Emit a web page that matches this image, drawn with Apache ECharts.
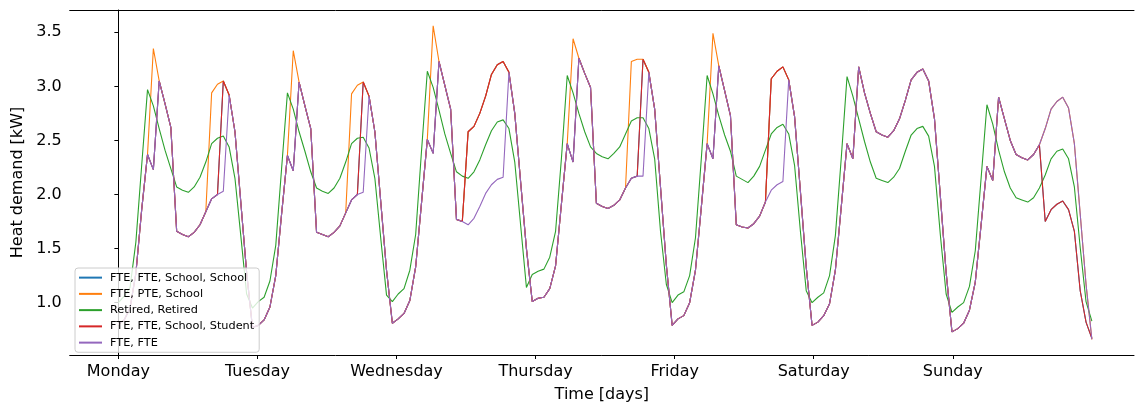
<!DOCTYPE html>
<html><head><meta charset="utf-8">
<script src="https://cdn.jsdelivr.net/npm/echarts@6/dist/echarts.min.js"></script>
<style>html,body{margin:0;padding:0;background:#fff}#c{width:1135px;height:408px}</style>
</head><body><div id="c"></div>
<script>
const dayLabels = ['Monday', 'Tuesday', 'Wednesday', 'Thursday', 'Friday', 'Saturday', 'Sunday'];
const dayTicks = [0, 1, 2, 3, 4, 5, 6];
const yTicks = [1.0, 1.5, 2.0, 2.5, 3.0, 3.5];
const seriesNames = ['FTE, FTE, School, School', 'FTE, PTE, School', 'Retired, Retired', 'FTE, FTE, School, Student', 'FTE, FTE'];
const seriesColors = ['#1f77b4', '#ff7f0e', '#2ca02c', '#d62728', '#9467bd'];

// hourly heat demand [kW], 168 values (Mon 00:00 .. Sun 23:00)
const fteFteSchoolSchool = [
 0.80,0.84,0.95,1.27,1.86,2.37,2.23,3.05,2.84,2.62,1.66,1.63,1.61,1.65,1.72,1.84,1.96,2.00,3.05,2.92,2.58,1.93,1.28,0.77,
 0.79,0.84,0.96,1.25,1.82,2.36,2.22,3.04,2.82,2.61,1.65,1.63,1.61,1.65,1.71,1.83,1.95,2.00,3.04,2.91,2.58,1.94,1.30,0.81,
 0.85,0.90,1.02,1.33,1.92,2.51,2.38,3.23,3.01,2.79,1.77,1.75,2.58,2.63,2.75,2.91,3.11,3.20,3.23,3.13,2.75,2.12,1.50,1.01,
 1.04,1.05,1.13,1.34,1.91,2.47,2.30,3.26,3.12,2.99,1.92,1.89,1.87,1.90,1.95,2.06,2.15,2.17,3.25,3.13,2.79,2.07,1.35,0.79,
 0.85,0.88,1.00,1.30,1.88,2.47,2.33,3.19,2.96,2.73,1.72,1.70,1.69,1.73,1.80,1.93,3.07,3.14,3.18,3.06,2.72,2.03,1.33,0.79,
 0.82,0.88,0.99,1.30,1.88,2.47,2.33,3.18,2.94,2.75,2.58,2.55,2.53,2.59,2.70,2.87,3.06,3.13,3.16,3.05,2.70,1.99,1.28,0.73,
 0.76,0.81,0.93,1.19,1.72,2.26,2.13,2.90,2.70,2.50,2.37,2.34,2.32,2.37,2.46,1.75,1.86,1.91,1.94,1.86,1.66,1.11,0.82,0.67
];
const ftePteSchool = [
 0.80,0.84,0.95,1.27,1.86,2.37,3.35,3.05,2.84,2.62,1.66,1.63,1.61,1.65,1.72,1.84,2.94,3.02,3.05,2.92,2.58,1.93,1.28,0.77,
 0.79,0.84,0.96,1.25,1.82,2.36,3.33,3.04,2.82,2.61,1.65,1.63,1.61,1.65,1.71,1.83,2.93,3.01,3.04,2.91,2.58,1.94,1.30,0.81,
 0.85,0.90,1.02,1.33,1.92,2.51,3.56,3.23,3.01,2.79,1.77,1.75,2.58,2.63,2.75,2.91,3.11,3.20,3.23,3.13,2.75,2.12,1.50,1.01,
 1.04,1.05,1.13,1.34,1.91,2.47,3.44,3.26,3.12,2.99,1.92,1.89,1.87,1.90,1.95,2.06,3.23,3.25,3.25,3.13,2.79,2.07,1.35,0.79,
 0.85,0.88,1.00,1.30,1.88,2.47,3.49,3.19,2.96,2.73,1.72,1.70,1.69,1.73,1.80,1.93,3.07,3.14,3.18,3.06,2.72,2.03,1.33,0.79,
 0.82,0.88,0.99,1.30,1.88,2.47,2.33,3.18,2.94,2.75,2.58,2.55,2.53,2.59,2.70,2.87,3.06,3.13,3.16,3.05,2.70,1.99,1.28,0.73,
 0.76,0.81,0.93,1.19,1.72,2.26,2.13,2.90,2.70,2.50,2.37,2.34,2.32,2.37,2.46,2.61,2.79,2.86,2.90,2.80,2.47,1.82,1.17,0.66
];
const retiredRetired = [
 1.00,1.06,1.14,1.56,2.27,2.97,2.82,2.61,2.41,2.24,2.07,2.04,2.02,2.07,2.16,2.30,2.47,2.52,2.54,2.44,2.15,1.62,1.08,0.95,
 1.01,1.05,1.20,1.53,2.24,2.94,2.79,2.58,2.40,2.21,2.06,2.03,2.01,2.06,2.15,2.30,2.47,2.52,2.53,2.43,2.15,1.60,1.07,1.01,
 1.08,1.13,1.30,1.63,2.40,3.14,2.99,2.78,2.56,2.38,2.21,2.17,2.15,2.21,2.32,2.46,2.59,2.67,2.69,2.61,2.30,1.72,1.14,1.26,
 1.29,1.31,1.42,1.66,2.33,3.10,2.94,2.75,2.58,2.44,2.38,2.35,2.33,2.38,2.44,2.56,2.68,2.71,2.71,2.61,2.33,1.66,1.17,1.00,
 1.07,1.10,1.25,1.60,2.33,3.10,2.93,2.73,2.55,2.40,2.17,2.14,2.11,2.17,2.26,2.41,2.56,2.62,2.65,2.56,2.27,1.66,1.11,1.00,
 1.05,1.09,1.25,1.62,2.33,3.09,2.91,2.70,2.49,2.30,2.15,2.13,2.11,2.16,2.24,2.40,2.55,2.61,2.63,2.54,2.26,1.63,1.08,0.91,
 0.96,1.00,1.15,1.48,2.15,2.83,2.65,2.41,2.21,2.06,1.97,1.95,1.93,1.97,2.06,2.18,2.33,2.40,2.42,2.33,2.07,1.51,1.01,0.83
];
const fteFteSchoolStudent = [
 0.80,0.84,0.95,1.27,1.86,2.37,2.23,3.05,2.84,2.62,1.66,1.63,1.61,1.65,1.72,1.84,1.96,2.00,3.05,2.92,2.58,1.93,1.28,0.77,
 0.79,0.84,0.96,1.25,1.82,2.36,2.22,3.04,2.82,2.61,1.65,1.63,1.61,1.65,1.71,1.83,1.95,2.00,3.04,2.91,2.58,1.94,1.30,0.81,
 0.85,0.90,1.02,1.33,1.92,2.51,2.38,3.23,3.01,2.79,1.77,1.75,2.58,2.63,2.75,2.91,3.11,3.20,3.23,3.13,2.75,2.12,1.50,1.01,
 1.04,1.05,1.13,1.34,1.91,2.47,2.30,3.26,3.12,2.99,1.92,1.89,1.87,1.90,1.95,2.06,2.15,2.17,3.25,3.13,2.79,2.07,1.35,0.79,
 0.85,0.88,1.00,1.30,1.88,2.47,2.33,3.19,2.96,2.73,1.72,1.70,1.69,1.73,1.80,1.93,3.07,3.14,3.18,3.06,2.72,2.03,1.33,0.79,
 0.82,0.88,0.99,1.30,1.88,2.47,2.33,3.18,2.94,2.75,2.58,2.55,2.53,2.59,2.70,2.87,3.06,3.13,3.16,3.05,2.70,1.99,1.28,0.73,
 0.76,0.81,0.93,1.19,1.72,2.26,2.13,2.90,2.70,2.50,2.37,2.34,2.32,2.37,2.46,1.75,1.86,1.91,1.94,1.86,1.66,1.11,0.82,0.67
];
const fteFte = [
 0.80,0.84,0.95,1.27,1.86,2.37,2.23,3.05,2.84,2.62,1.66,1.63,1.61,1.65,1.72,1.84,1.96,2.00,2.03,2.92,2.58,1.93,1.28,0.77,
 0.79,0.84,0.96,1.25,1.82,2.36,2.22,3.04,2.82,2.61,1.65,1.63,1.61,1.65,1.71,1.83,1.95,2.00,2.02,2.91,2.58,1.94,1.30,0.81,
 0.85,0.90,1.02,1.33,1.92,2.51,2.38,3.23,3.01,2.79,1.77,1.75,1.72,1.78,1.89,2.01,2.09,2.14,2.16,3.13,2.75,2.12,1.50,1.01,
 1.04,1.05,1.13,1.34,1.91,2.47,2.30,3.26,3.12,2.99,1.92,1.89,1.87,1.90,1.95,2.06,2.15,2.17,2.17,3.13,2.79,2.07,1.35,0.79,
 0.85,0.88,1.00,1.30,1.88,2.47,2.33,3.19,2.96,2.73,1.72,1.70,1.69,1.73,1.80,1.93,2.04,2.09,2.12,3.06,2.72,2.03,1.33,0.79,
 0.82,0.88,0.99,1.30,1.88,2.47,2.33,3.18,2.94,2.75,2.58,2.55,2.53,2.59,2.70,2.87,3.06,3.13,3.16,3.05,2.70,1.99,1.28,0.73,
 0.76,0.81,0.93,1.19,1.72,2.26,2.13,2.90,2.70,2.50,2.37,2.34,2.32,2.37,2.46,2.61,2.79,2.86,2.90,2.80,2.47,1.82,1.17,0.66
];

const seriesValues = [fteFteSchoolSchool, ftePteSchool, retiredRetired, fteFteSchoolStudent, fteFte];
const nPoints = fteFte.length;
// points are spread evenly over 7 days (index -> time in days)
const timeDays = fteFte.map((_, i) => i * 7 / (nPoints - 1));

const FONT = 'DejaVu Sans';
const X_MIN = -0.35, X_MAX = 7.303;
const chart = echarts.init(document.getElementById('c'), null, {renderer: 'canvas'});
chart.setOption({
  animation: false,
  backgroundColor: '#ffffff',
  grid: {left: 69.7, top: 10, width: 1064.3, height: 348.3, show: false},
  legend: {
    data: seriesNames, orient: 'vertical', left: 75, top: 268,
    icon: 'rect', itemWidth: 23, itemHeight: 2, itemGap: 3,
    padding: [3, 5, 3, 4],
    backgroundColor: 'rgba(255,255,255,0.8)', borderColor: '#cccccc', borderWidth: 1, borderRadius: 3,
    textStyle: {fontFamily: FONT, fontSize: 11.3, color: '#000', lineHeight: 13.25, padding: [0, 0, 0, 3]},
    selectedMode: false
  },
  xAxis: [{
    type: 'value', min: X_MIN, max: X_MAX, position: 'bottom',
    name: 'Time [days]', nameLocation: 'middle', nameGap: 32,
    nameTextStyle: {fontFamily: FONT, fontSize: 16, color: '#000'},
    axisLine: {show: true, lineStyle: {color: '#000', width: 1}},
    axisTick: {show: true, length: 4, customValues: dayTicks, lineStyle: {color: '#000'}},
    axisLabel: {customValues: dayTicks, formatter: v => dayLabels[Math.round(v)], fontFamily: FONT, fontSize: 16, color: '#000', margin: 9},
    splitLine: {show: false}
  }, {
    type: 'value', min: X_MIN, max: X_MAX, position: 'top',
    axisLine: {show: true, lineStyle: {color: '#000', width: 1}},
    axisTick: {show: false}, axisLabel: {show: false}, splitLine: {show: false}
  }],
  yAxis: {
    type: 'value', min: 0.516, max: 3.706,
    name: 'Heat demand [kW]', nameLocation: 'middle', nameGap: 44,
    nameTextStyle: {fontFamily: FONT, fontSize: 16, color: '#000'},
    axisLine: {show: true, lineStyle: {color: '#000', width: 1}},
    axisTick: {show: true, length: 4, customValues: yTicks, lineStyle: {color: '#000'}},
    axisLabel: {customValues: yTicks, formatter: v => v.toFixed(1), fontFamily: FONT, fontSize: 16, color: '#000', margin: 8},
    splitLine: {show: false}
  },
  series: seriesNames.map((name, k) => ({
    name: name, type: 'line', showSymbol: false, symbol: 'none',
    xAxisIndex: 0, yAxisIndex: 0,
    color: seriesColors[k],
    lineStyle: {width: 1.1, color: seriesColors[k]},
    emphasis: {disabled: true},
    data: seriesValues[k].map((v, i) => [timeDays[i], v])
  }))
});
</script></body></html>
